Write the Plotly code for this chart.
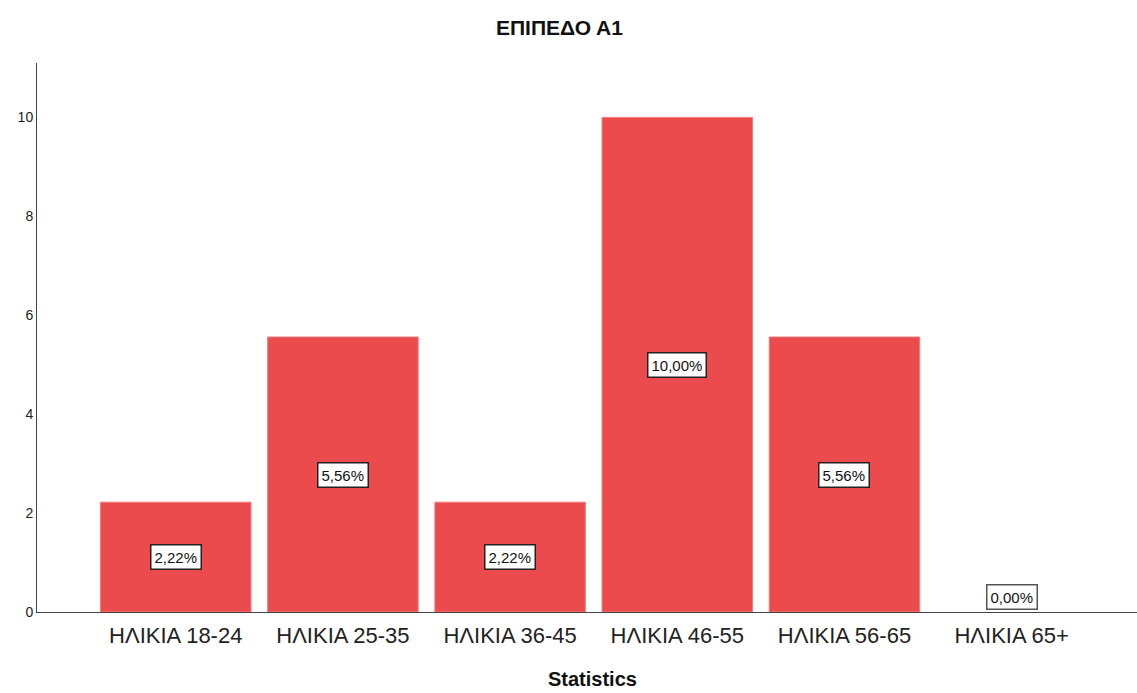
import plotly.graph_objects as go

# Age groups and the share of respondents at level A1
categories = ["ΗΛΙΚΙΑ 18-24", "ΗΛΙΚΙΑ 25-35", "ΗΛΙΚΙΑ 36-45",
              "ΗΛΙΚΙΑ 46-55", "ΗΛΙΚΙΑ 56-65", "ΗΛΙΚΙΑ 65+"]
values = [2.22, 5.56, 2.22, 10.00, 5.56, 0.00]
y_ticks = [0, 2, 4, 6, 8, 10]

BAR_COLOR = "#EB4B4D"
FONT = "Liberation Sans, Arial, sans-serif"

fig = go.Figure()
fig.add_trace(go.Bar(
    x=categories,
    y=values,
    marker=dict(color=BAR_COLOR,
                line=dict(color="#F27A7B",
                          width=[1 if v > 0 else 0 for v in values])),
    hoverinfo="x+y",
))

# Percentage labels, boxed, centred in each bar (zero sits on the axis)
for cat, v in zip(categories, values):
    txt = f"{v:.2f}%".replace(".", ",")
    if v > 0:
        fig.add_annotation(x=cat, y=v / 2, text=txt, showarrow=False,
                           font=dict(family=FONT, size=15, color="#111"),
                           bgcolor="white", bordercolor="#222", borderwidth=1.5,
                           borderpad=3, yanchor="middle")
    else:
        fig.add_annotation(x=cat, y=0, text=txt, showarrow=False,
                           font=dict(family=FONT, size=15, color="#111"),
                           bgcolor="white", bordercolor="#555", borderwidth=1.5,
                           borderpad=3, yanchor="bottom", yshift=2)

fig.add_annotation(text="<b>Statistics</b>", xref="paper", yref="paper",
                   x=0.505, y=-0.122, yanchor="middle", showarrow=False,
                   font=dict(family=FONT, size=20, color="#111"))

fig.update_layout(
    width=1137, height=693,
    margin=dict(l=37, r=0, t=63, b=81),
    paper_bgcolor="white", plot_bgcolor="white",
    bargap=0.1,
    showlegend=False,
    title=dict(text="<b>ΕΠΙΠΕΔΟ Α1</b>", x=0.492, xanchor="center",
               y=0.96, yanchor="middle",
               font=dict(family=FONT, size=21, color="#111")),
    font=dict(family=FONT),
)
fig.update_xaxes(
    range=[-0.83, 5.75],
    showline=True, linecolor="#444", linewidth=1,
    showgrid=False, ticks="outside", ticklen=4, tickcolor="rgba(0,0,0,0)",
    tickfont=dict(family=FONT, size=22, color="#222"),
)
fig.update_yaxes(
    range=[0, 11.1],
    tickvals=y_ticks,
    showline=True, linecolor="#444", linewidth=1,
    showgrid=False, zeroline=False, ticks="",
    tickfont=dict(family=FONT, size=14, color="#222"),
)

fig.write_html("out.html")
